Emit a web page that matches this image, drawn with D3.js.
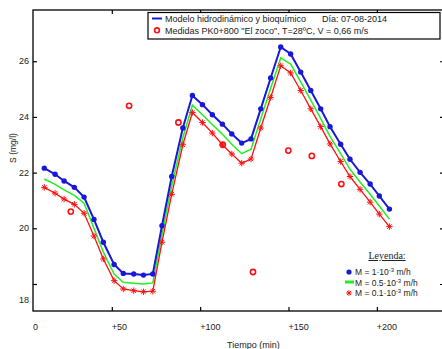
<!DOCTYPE html>
<html><head><meta charset="utf-8">
<script src="https://cdn.jsdelivr.net/npm/d3@7/dist/d3.min.js"></script>
<style>
body{margin:0;background:#fff;}
text{font-family:Arial,"Liberation Sans",Helvetica,sans-serif;fill:#222;}
</style></head>
<body><svg id="c" width="442" height="349"></svg>
<script>
// ---- data ----
const times = [11.8,17.9,23.0,28.8,34.3,39.9,45.2,51.3,56.5,62.4,67.9,73.2,78.4,83.9,90.2,95.6,101.3,106.9,112.6,117.9,123.5,128.8,134.3,139.9,145.6,151.2,156.9,162.6,168.2,173.5,179.5,184.8,190.5,196.2,201.4,207.1];
const seriesM1 = [22.16,21.94,21.70,21.47,21.12,20.32,19.50,18.70,18.38,18.36,18.32,18.36,20.09,21.86,23.60,24.77,24.44,24.08,23.74,23.39,23.06,23.21,24.29,25.40,26.51,26.26,25.61,24.95,24.29,23.65,23.02,22.48,22.01,21.59,21.16,20.69];
const seriesM05 = [21.77,21.58,21.38,21.18,20.90,20.00,19.15,18.36,18.06,18.03,18.00,18.04,19.78,21.52,23.25,24.42,24.08,23.73,23.38,23.02,22.68,22.84,23.93,25.03,26.12,25.90,25.26,24.60,23.94,23.30,22.68,22.12,21.66,21.22,20.80,20.33];
const seriesM01 = [21.47,21.26,21.05,20.86,20.54,19.72,18.90,18.12,17.82,17.76,17.72,17.74,19.50,21.22,23.00,24.16,23.80,23.42,23.00,22.67,22.34,22.49,23.60,24.70,25.84,25.58,24.95,24.29,23.65,23.03,22.40,21.86,21.40,20.94,20.51,20.06];
const measTimes = [26.8,59.8,87.7,112.8,129.9,149.9,163.2,179.9];
const measValues = [20.60,24.40,23.80,23.00,18.43,22.79,22.60,21.59];
const xTickValues = [0,50,100,150,200];
const xTickLabels = ["0","+50","+100","+150","+200"];
const yTickValues = [18,20,22,24,26];
const yTickLabels = ["18","20","22","24","26"];

// ---- layout ----
const svg = d3.select("#c");
const L=33, R=444, T=10, B=311;
const x = d3.scaleLinear().domain([5.4,238]).range([L,R]);
const y = d3.scaleLinear().domain([17.03,27.84]).range([B,T]);
const BLUE="#1818d8", GREEN="#22ee22", RED="#ff1010";

// frame
svg.append("rect").attr("x",L).attr("y",T).attr("width",R-L).attr("height",B-T)
  .attr("fill","none").attr("stroke","#000").attr("stroke-width",1.3);

// ticks (inward on all sides)
const tickG = svg.append("g");
const xt = xTickValues.filter(v=>x(v)>L);
function drawAxis(g, axis){ g.call(axis); g.select(".domain").remove(); g.selectAll("text").remove(); g.selectAll("line").attr("stroke","#000").attr("stroke-width",1.2); }
drawAxis(tickG.append("g").attr("transform",`translate(0,${B})`), d3.axisBottom(x).tickValues(xt).tickSizeInner(-4).tickSizeOuter(0));
drawAxis(tickG.append("g").attr("transform",`translate(0,${T})`), d3.axisTop(x).tickValues(xt).tickSizeInner(-4).tickSizeOuter(0));
drawAxis(tickG.append("g").attr("transform",`translate(${L},0)`), d3.axisLeft(y).tickValues(yTickValues).tickSizeInner(-4).tickSizeOuter(0));
drawAxis(tickG.append("g").attr("transform",`translate(${R},0)`), d3.axisRight(y).tickValues(yTickValues).tickSizeInner(-4).tickSizeOuter(0));

// tick labels
svg.append("g").selectAll("text").data(xTickValues).join("text")
  .attr("x",d=>Math.max(x(d),L)).attr("y",330).attr("font-size",9).attr("text-anchor","start")
  .text((d,i)=>xTickLabels[i]);
svg.append("g").selectAll("text").data(yTickValues).join("text")
  .attr("x",29).attr("y",d=>y(d)+(d===18?16:0)).attr("dy","0.35em").attr("font-size",9).attr("text-anchor","end")
  .text((d,i)=>yTickLabels[i]);

// axis titles
svg.append("text").attr("x",227).attr("y",348).attr("font-size",9).text("Tiempo (min)");
svg.append("text").attr("transform","translate(16,148) rotate(-90)").attr("text-anchor","middle")
  .attr("font-size",8.5).text("S (mg/l)");

// lines
const line = (vals)=>d3.line().x((d,i)=>x(times[i])).y(d=>y(d))(vals);
svg.append("path").attr("d",line(seriesM05)).attr("fill","none").attr("stroke",GREEN).attr("stroke-width",1.5);
svg.append("path").attr("d",line(seriesM01)).attr("fill","none").attr("stroke",RED).attr("stroke-width",1.3);
svg.append("path").attr("d",line(seriesM1)).attr("fill","none").attr("stroke",BLUE).attr("stroke-width",2);

// red asterisk markers
function star(g,cx,cy,s){
  const p=`M${cx-s},${cy}L${cx+s},${cy}M${cx},${cy-s}L${cx},${cy+s}M${cx-s*0.7},${cy-s*0.7}L${cx+s*0.7},${cy+s*0.7}M${cx-s*0.7},${cy+s*0.7}L${cx+s*0.7},${cy-s*0.7}`;
  g.append("path").attr("d",p).attr("stroke",RED).attr("stroke-width",1).attr("fill","none");
}
const sg = svg.append("g");
seriesM01.forEach((v,i)=>star(sg,x(times[i]),y(v),3.2));
// blue dots
svg.append("g").selectAll("circle").data(seriesM1).join("circle")
  .attr("cx",(d,i)=>x(times[i])).attr("cy",d=>y(d)).attr("r",2.7).attr("fill",BLUE);
// measurements
svg.append("g").selectAll("circle").data(measValues).join("circle")
  .attr("cx",(d,i)=>x(measTimes[i])).attr("cy",d=>y(d)).attr("r",2.6)
  .attr("fill","none").attr("stroke",RED).attr("stroke-width",1.6);

// legend 1
const lg = svg.append("g");
lg.append("rect").attr("x",148).attr("y",12.5).attr("width",292).attr("height",26.5)
  .attr("fill","#fff").attr("stroke","#000").attr("stroke-width",1.2);
lg.append("line").attr("x1",152).attr("x2",162).attr("y1",18.5).attr("y2",18.5).attr("stroke",BLUE).attr("stroke-width",2);
lg.append("text").attr("x",165).attr("y",21.8).attr("font-size",9).text("Modelo hidrodinámico y bioquímico");
lg.append("text").attr("x",322).attr("y",21.8).attr("font-size",9).text("Día: 07-08-2014");
lg.append("circle").attr("cx",157).attr("cy",30.3).attr("r",2.4).attr("fill","none").attr("stroke",RED).attr("stroke-width",1.6);
lg.append("text").attr("x",165).attr("y",33.6).attr("font-size",9).text("Medidas PK0+800 \"El zoco\", T=28ºC, V = 0,66 m/s");

// legend 2
const l2 = svg.append("g");
l2.append("text").attr("x",387).attr("y",259).attr("text-anchor","middle")
  .style("font-family","'Liberation Serif','Times New Roman',serif")
  .attr("font-size",10).attr("text-decoration","underline").text("Leyenda:");
l2.append("circle").attr("cx",349).attr("cy",272).attr("r",2.6).attr("fill",BLUE);
l2.append("line").attr("x1",345).attr("x2",354).attr("y1",282).attr("y2",282).attr("stroke",GREEN).attr("stroke-width",3);
star(l2,349,293,2.8);
const legItems = [{y:275,a:"M = 1·10",b:"-3",c:" m/h"},{y:285.5,a:"M = 0.5·10",b:"-3",c:" m/h"},{y:296,a:"M = 0.1·10",b:"-3",c:" m/h"}];
legItems.forEach(it=>{
  const t=l2.append("text").attr("x",355).attr("y",it.y).attr("font-size",8.5);
  t.append("tspan").text(it.a);
  t.append("tspan").attr("dy",-3).attr("font-size",6).text(it.b);
  t.append("tspan").attr("dy",3).text(it.c);
});
</script></body></html>
